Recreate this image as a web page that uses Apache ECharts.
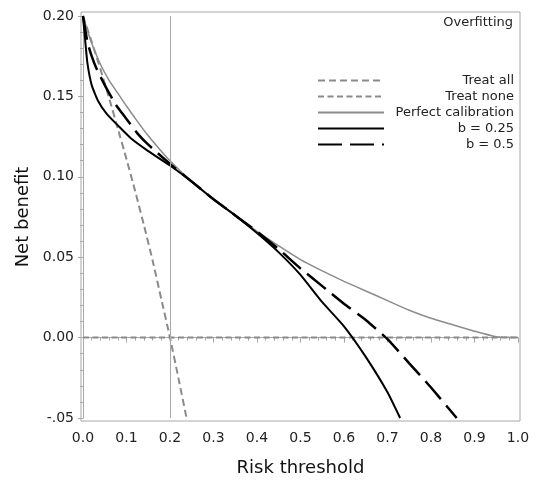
<!DOCTYPE html>
<html>
<head>
<meta charset="utf-8">
<title>Net benefit – Overfitting</title>
<script src="https://cdn.jsdelivr.net/npm/echarts@6/dist/echarts.min.js"></script>
<style>
  html, body { margin: 0; padding: 0; background: #ffffff; }
  #chart { width: 536px; height: 486px; }
</style>
</head>
<body>
<div id="chart"></div>
<script>
// Risk thresholds and net benefit for each strategy
const treatAllT  = [0, 0.02, 0.04, 0.06, 0.08, 0.10, 0.12, 0.14, 0.16, 0.18, 0.20, 0.22, 0.238];
const treatAllNB = [0.200, 0.184, 0.167, 0.149, 0.130, 0.111, 0.091, 0.070, 0.048, 0.024, 0.000, -0.026, -0.050];

const treatNoneT  = [0, 1];
const treatNoneNB = [0, 0];

const perfectT  = [0, 0.01, 0.02, 0.04, 0.06, 0.08, 0.10, 0.125, 0.15, 0.175, 0.20, 0.25, 0.30, 0.35, 0.40, 0.45, 0.50, 0.55, 0.60, 0.65, 0.70, 0.75, 0.80, 0.85, 0.90, 0.95, 1.00];
const perfectNB = [0.200, 0.191, 0.183, 0.170, 0.160, 0.152, 0.144, 0.1345, 0.1255, 0.1175, 0.110, 0.097, 0.086, 0.076, 0.066, 0.057, 0.0485, 0.0415, 0.035, 0.029, 0.023, 0.017, 0.012, 0.008, 0.004, 0.0005, 0.000];

const b025T  = [0, 0.005, 0.01, 0.02, 0.035, 0.055, 0.08, 0.11, 0.15, 0.20, 0.25, 0.30, 0.35, 0.40, 0.45, 0.50, 0.55, 0.60, 0.65, 0.70, 0.729];
const b025NB = [0.200, 0.185, 0.171, 0.157, 0.147, 0.139, 0.132, 0.124, 0.116, 0.107, 0.097, 0.086, 0.076, 0.065, 0.053, 0.039, 0.022, 0.007, -0.012, -0.034, -0.050];

const b05T  = [0, 0.01, 0.02, 0.03, 0.05, 0.075, 0.10, 0.125, 0.15, 0.20, 0.25, 0.30, 0.35, 0.40, 0.45, 0.50, 0.55, 0.60, 0.65, 0.70, 0.75, 0.80, 0.859];
const b05NB = [0.200, 0.184, 0.175, 0.168, 0.157, 0.145, 0.136, 0.127, 0.120, 0.108, 0.097, 0.086, 0.076, 0.066, 0.055, 0.043, 0.032, 0.021, 0.011, -0.001, -0.016, -0.031, -0.050];

const xTicks = { min: 0, max: 1, step: 0.1 };
const yTicks = { min: -0.05, max: 0.20, step: 0.05 };
const referenceThreshold = 0.2;

const legendNames = ['Treat all', 'Treat none', 'Perfect calibration', 'b = 0.25', 'b = 0.5'];

function zip(xs, ys) { return xs.map((x, i) => [x, ys[i]]); }

const FONT = 'DejaVu Sans';
const AXIS_GREY = '#a8a8a8';

const chart = echarts.init(document.getElementById('chart'), null, { renderer: 'canvas' });

const lineBase = { type: 'line', symbol: 'none', showSymbol: false, smooth: 0.15, z: 3 };

chart.setOption({
  animation: false,
  backgroundColor: '#ffffff',
  title: {
    text: 'Overfitting',
    right: 23, top: 16, padding: 0,
    textStyle: { fontFamily: FONT, fontSize: 13, fontWeight: 'normal', color: '#222' }
  },
  legend: {
    data: legendNames,
    orient: 'vertical',
    left: 317, top: 74, padding: 0,
    itemWidth: 66, itemHeight: 14, itemGap: 3,
    itemStyle: { opacity: 0 },
    formatter: name => '{r|' + name + '}',
    textStyle: {
      fontFamily: FONT, fontSize: 13, color: '#222',
      rich: { r: { width: 125, align: 'right', fontFamily: FONT, fontSize: 13, color: '#222', lineHeight: 14 } }
    }
  },
  graphic: [{
    type: 'rect',
    shape: { x: 81, y: 12, width: 439, height: 409 },
    style: { fill: 'none', stroke: AXIS_GREY, lineWidth: 1 },
    silent: true, z: 0
  }],
  grid: { left: 83, right: 18, top: 16, bottom: 68, containLabel: false },
  xAxis: {
    type: 'value',
    min: xTicks.min, max: xTicks.max, interval: xTicks.step,
    offset: 3,
    name: 'Risk threshold', nameLocation: 'middle', nameGap: 38,
    nameTextStyle: { fontFamily: FONT, fontSize: 18, color: '#111' },
    axisLine: { show: true, lineStyle: { color: AXIS_GREY, width: 1 } },
    axisTick: { show: true, inside: false, length: 5, lineStyle: { color: AXIS_GREY } },
    minorTick: { show: true, splitNumber: 5, length: 3, lineStyle: { color: AXIS_GREY } },
    axisLabel: { margin: 10, fontFamily: FONT, fontSize: 14, color: '#222', formatter: v => v.toFixed(1) },
    splitLine: { show: false }
  },
  yAxis: {
    type: 'value',
    min: yTicks.min, max: yTicks.max, interval: yTicks.step,
    offset: 2,
    name: 'Net benefit', nameLocation: 'middle', nameGap: 45, nameRotate: 90,
    nameTextStyle: { fontFamily: FONT, fontSize: 18, color: '#111' },
    axisLine: { show: true, lineStyle: { color: AXIS_GREY, width: 1 } },
    axisTick: { show: true, inside: false, length: 5, lineStyle: { color: AXIS_GREY } },
    minorTick: { show: true, splitNumber: 5, length: 3, lineStyle: { color: AXIS_GREY } },
    axisLabel: {
      margin: 7, fontFamily: FONT, fontSize: 14, color: '#222',
      formatter: v => {
        const r = Math.round(v * 100) / 100;
        return r < 0 ? '-' + Math.abs(r).toFixed(2).slice(1) : r.toFixed(2);
      }
    },
    splitLine: { show: false }
  },
  series: [
    {
      ...lineBase, name: 'Treat none', smooth: false,
      data: zip(treatNoneT, treatNoneNB),
      lineStyle: { color: '#8a8a8a', width: 2, type: [6, 3.5] },
      itemStyle: { color: '#8a8a8a' },
      markLine: {
        silent: true, symbol: 'none', label: { show: false },
        lineStyle: { color: AXIS_GREY, width: 1, type: 'solid' },
        data: [{ xAxis: referenceThreshold }]
      }
    },
    {
      ...lineBase, name: 'Treat all',
      data: zip(treatAllT, treatAllNB),
      lineStyle: { color: '#8a8a8a', width: 2, type: [7, 4] },
      itemStyle: { color: '#8a8a8a' }
    },
    {
      ...lineBase, name: 'Perfect calibration',
      data: zip(perfectT, perfectNB),
      lineStyle: { color: '#8c8c8c', width: 1.5, type: 'solid' },
      itemStyle: { color: '#8c8c8c' }
    },
    {
      ...lineBase, name: 'b = 0.5',
      data: zip(b05T, b05NB),
      lineStyle: { color: '#000000', width: 2.5, type: [24, 8] },
      itemStyle: { color: '#000000' }
    },
    {
      ...lineBase, name: 'b = 0.25',
      data: zip(b025T, b025NB),
      lineStyle: { color: '#000000', width: 2, type: 'solid' },
      itemStyle: { color: '#000000' }
    }
  ]
});
</script>
</body>
</html>
